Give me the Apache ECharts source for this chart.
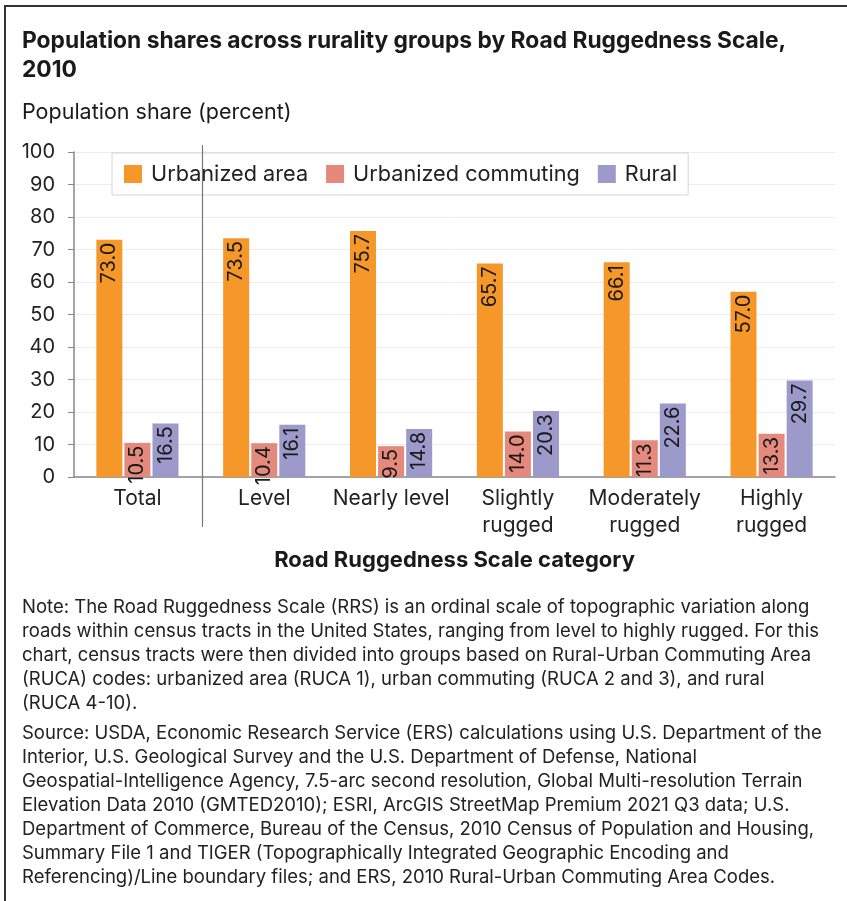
<!DOCTYPE html>
<html>
<head>
<meta charset="utf-8">
<script src="https://cdn.jsdelivr.net/npm/echarts@6/dist/echarts.min.js"></script>
<style>
html,body{margin:0;padding:0;background:#fff;}
#main{width:847px;height:901px;}
</style>
</head>
<body>
<div id="main"></div>
<script>
var categories = ['Total', 'Level', 'Nearly level', 'Slightly\nrugged', 'Moderately\nrugged', 'Highly\nrugged'];
var urbanized = [73.0, 73.5, 75.7, 65.7, 66.1, 57.0];
var commuting = [10.5, 10.4, 9.5, 14.0, 11.3, 13.3];
var rural = [16.5, 16.1, 14.8, 20.3, 22.6, 29.7];
var seriesNames = ['Urbanized area', 'Urbanized commuting', 'Rural'];
var yTicks = {min: 0, max: 100, interval: 10};

var titleLines = 'Population shares across rurality groups by Road Ruggedness Scale,\n2010';
var yTitle = 'Population share (percent)';
var xTitle = 'Road Ruggedness Scale category';
var noteLines = [
  'Note: The Road Ruggedness Scale (RRS) is an ordinal scale of topographic variation along',
  'roads within census tracts in the United States, ranging from level to highly rugged. For this',
  'chart, census tracts were then divided into groups based on Rural-Urban Commuting Area',
  '(RUCA) codes: urbanized area (RUCA 1), urban commuting (RUCA 2 and 3), and rural',
  '(RUCA 4-10).'
];
var sourceLines = [
  'Source: USDA, Economic Research Service (ERS) calculations using U.S. Department of the',
  'Interior, U.S. Geological Survey and the U.S. Department of Defense, National',
  'Geospatial-Intelligence Agency, 7.5-arc second resolution, Global Multi-resolution Terrain',
  'Elevation Data 2010 (GMTED2010); ESRI, ArcGIS StreetMap Premium 2021 Q3 data; U.S.',
  'Department of Commerce, Bureau of the Census, 2010 Census of Population and Housing,',
  'Summary File 1 and TIGER (Topographically Integrated Geographic Encoding and',
  'Referencing)/Line boundary files; and ERS, 2010 Rural-Urban Commuting Area Codes.'
];
var colors = ['#F6972A', '#E5897D', '#9C9ACB'];

var FONT = 'Inter, "Liberation Sans", Arial, sans-serif';
var chart = echarts.init(document.getElementById('main'), null, {renderer: 'canvas'});

function barSeries(name, data, color) {
  return {
    name: name,
    type: 'bar',
    data: data,
    barWidth: 26,
    barGap: '8%',
    itemStyle: {color: color},
    label: {
      show: true,
      position: 'insideTop',
      rotate: 90,
      align: 'right',
      verticalAlign: 'middle',
      distance: 3,
      fontFamily: FONT,
      fontSize: 20,
      color: '#1a1a1a',
      formatter: function (p) { return p.value.toFixed(1); }
    }
  };
}

var option = {
  backgroundColor: '#fff',
  animation: false,
  textStyle: {fontFamily: FONT},
  title: [
    {text: titleLines, left: 17, top: 22,
     textStyle: {fontFamily: FONT, fontSize: 22.8, fontWeight: 'bold', color: '#1a1a1a', lineHeight: 29}},
    {text: yTitle, left: 17, top: 97,
     textStyle: {fontFamily: FONT, fontSize: 21.5, fontWeight: 'normal', color: '#1a1a1a'}}
  ],
  legend: {
    data: seriesNames,
    left: 112, top: 153,
    padding: [10, 11, 10, 12],
    itemGap: 18,
    itemWidth: 18, itemHeight: 18,
    icon: 'rect',
    borderColor: '#d4d4d4', borderWidth: 1,
    backgroundColor: '#fff',
    textStyle: {fontFamily: FONT, fontSize: 21.7, color: '#222', padding: [0, 0, 0, 4]}
  },
  grid: {left: 74, right: 12, top: 152, bottom: 424, containLabel: false},
  xAxis: {
    type: 'category',
    data: categories,
    axisLine: {lineStyle: {color: '#888', width: 1.5}},
    axisTick: {show: false},
    axisLabel: {fontFamily: FONT, fontSize: 21, color: '#222', margin: 8, lineHeight: 27, interval: 0},
    name: xTitle,
    nameLocation: 'middle',
    nameGap: 72,
    nameTextStyle: {fontFamily: FONT, fontSize: 22, fontWeight: 'bold', color: '#1a1a1a'}
  },
  yAxis: {
    type: 'value',
    min: yTicks.min, max: yTicks.max, interval: yTicks.interval,
    axisLine: {show: true, lineStyle: {color: '#888', width: 1.5}},
    axisTick: {show: true, length: 6, lineStyle: {color: '#888'}},
    axisLabel: {fontFamily: FONT, fontSize: 20, color: '#222', margin: 19},
    splitLine: {lineStyle: {color: '#ececec'}}
  },
  series: [
    barSeries(seriesNames[0], urbanized, colors[0]),
    barSeries(seriesNames[1], commuting, colors[1]),
    barSeries(seriesNames[2], rural, colors[2])
  ]
};
chart.setOption(option);

var x0 = chart.convertToPixel({xAxisIndex: 0}, categories[0]);
var x1 = chart.convertToPixel({xAxisIndex: 0}, categories[1]);
var sepX = Math.round((x0 + x1) / 2) + 1.5;
var yTop = chart.convertToPixel({yAxisIndex: 0}, yTicks.max);
var yBot = chart.convertToPixel({yAxisIndex: 0}, yTicks.min);

var graphics = [
  {type: 'line', shape: {x1: sepX, y1: yTop - 7, x2: sepX, y2: yBot + 50}, style: {stroke: '#777', lineWidth: 1.2}, z: 10},
  {type: 'line', shape: {x1: 5, y1: 6, x2: 847, y2: 6}, style: {stroke: '#333', lineWidth: 2}},
  {type: 'line', shape: {x1: 5, y1: 5, x2: 5, y2: 901}, style: {stroke: '#333', lineWidth: 2}},
  {type: 'text', left: 22, top: 595,
   style: {text: noteLines.join('\n'), font: '18.5px ' + FONT, fill: '#222', lineHeight: 24}},
  {type: 'text', left: 22, top: 721,
   style: {text: sourceLines.join('\n'), font: '18.5px ' + FONT, fill: '#222', lineHeight: 24}}
];
chart.setOption({graphic: graphics});
</script>
</body>
</html>
